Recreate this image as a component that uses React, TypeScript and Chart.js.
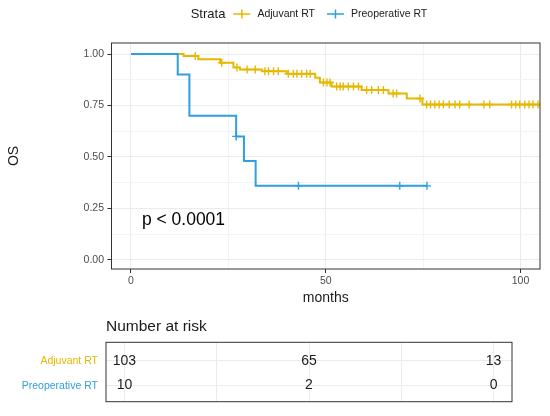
import React, { useEffect, useRef } from 'react';
import { Chart, registerables } from 'chart.js';

Chart.register(...registerables);

const FONT = '"Liberation Sans", Arial, sans-serif';
Chart.defaults.font.family = FONT;

const groupNames = ['Adjuvant RT', 'Preoperative RT'];
const groupColors = ['#E7B800', '#2E9FDF'];

// Kaplan-Meier steps: month, survival from that month on
const adjuvantTimes = [0, 13.5, 17.3, 22.9, 26.3, 28, 33.6, 40, 47.3, 48.5, 51.5, 59.2, 66.1, 70.8, 74.8, 105];
const adjuvantSurv = [1, 0.99, 0.975, 0.957, 0.935, 0.925, 0.916, 0.904, 0.885, 0.862, 0.842, 0.825, 0.808, 0.784, 0.755, 0.755];
const adjuvantCensored = [
  16.5, 23.3, 27.2, 29.8, 31.9, 34.4, 35.3, 36.6, 37.8, 40.4, 41.7, 42.6, 43.8, 45.1, 46, 49.4, 50.3, 51.1,
  52.8, 53.7, 54.5, 55.8, 57.1, 58.4, 60.5, 61.8, 63.5, 64.8, 67.3, 68.2, 74.2, 75.9, 76.9, 78, 79.1, 80.2,
  81.7, 83.2, 84.4, 86.8, 90.6, 92.1, 97.7, 98.8, 99.8, 101.1, 102.2, 103.2, 104.5,
];

const preopTimes = [0, 12, 15, 27, 29, 32, 76];
const preopSurv = [1, 0.9, 0.7, 0.6, 0.48, 0.36, 0.36];
const preopCensored = [27, 43, 69, 76];

// axis grid (major + minor) and labelled ticks
const xGrid = [0, 25, 50, 75, 100];
const xLabels = [0, 50, 100];
const yGrid = [0, 0.125, 0.25, 0.375, 0.5, 0.625, 0.75, 0.875, 1];
const yLabels = [0, 0.25, 0.5, 0.75, 1];

const pValueText = 'p < 0.0001';
const pValueAt = { x: 2.8, y: 0.193 };

// number at risk table
const riskTimes = [0, 50, 100];
const adjuvantAtRisk = [103, 65, 13];
const preopAtRisk = [10, 2, 0];

function survAt(times: number[], surv: number[], t: number) {
  let s = surv[0];
  for (let i = 0; i < times.length; i++) {
    if (times[i] <= t) s = surv[i];
  }
  return s;
}

const panelBorder = {
  id: 'panelBorder',
  afterDraw(chart: any) {
    const { ctx, chartArea: a } = chart;
    ctx.save();
    ctx.strokeStyle = '#333333';
    ctx.lineWidth = 1;
    ctx.strokeRect(a.left, a.top, a.width, a.height);
    ctx.restore();
  },
};

const strataLegend = {
  id: 'strataLegend',
  afterDraw(chart: any) {
    const ctx = chart.ctx;
    const y = 14;
    let x = 190.7;
    ctx.save();
    ctx.textBaseline = 'middle';
    ctx.textAlign = 'left';
    ctx.fillStyle = '#1A1A1A';
    ctx.font = `13px ${FONT}`;
    ctx.fillText('Strata', x, y);
    x += ctx.measureText('Strata').width + 8;
    ctx.font = `10.5px ${FONT}`;
    groupNames.forEach((name, i) => {
      ctx.strokeStyle = groupColors[i];
      ctx.lineWidth = 1.5;
      ctx.beginPath();
      ctx.moveTo(x, y);
      ctx.lineTo(x + 17, y);
      ctx.moveTo(x + 8.5, y - 4.5);
      ctx.lineTo(x + 8.5, y + 4.5);
      ctx.stroke();
      x += 24;
      ctx.fillStyle = '#1A1A1A';
      ctx.fillText(name, x, y);
      x += ctx.measureText(name).width + 12;
    });
    ctx.restore();
  },
};

const pValueLabel = {
  id: 'pValueLabel',
  afterDatasetsDraw(chart: any) {
    const { ctx, scales } = chart;
    ctx.save();
    ctx.font = `17.5px ${FONT}`;
    ctx.fillStyle = '#000000';
    ctx.textAlign = 'left';
    ctx.textBaseline = 'middle';
    ctx.fillText(pValueText, scales.x.getPixelForValue(pValueAt.x), scales.y.getPixelForValue(pValueAt.y));
    ctx.restore();
  },
};

const riskNumbers = {
  id: 'riskNumbers',
  afterDatasetsDraw(chart: any) {
    const { ctx, scales } = chart;
    const rows = [adjuvantAtRisk, preopAtRisk];
    ctx.save();
    ctx.font = `14px ${FONT}`;
    ctx.fillStyle = '#1A1A1A';
    ctx.textAlign = 'center';
    ctx.textBaseline = 'middle';
    rows.forEach((counts, r) => {
      counts.forEach((n, i) => {
        ctx.fillText(String(n), scales.x.getPixelForValue(riskTimes[i]), scales.y.getPixelForValue(r + 1));
      });
    });
    ctx.restore();
  },
};

const isMajorX = (v: number) => xLabels.includes(v);
const isMajorY = (v: number) => yLabels.some((l) => Math.abs(l - v) < 1e-9);

export default function App() {
  const mainRef = useRef<HTMLCanvasElement | null>(null);
  const tableRef = useRef<HTMLCanvasElement | null>(null);

  useEffect(() => {
    if (!mainRef.current || !tableRef.current) return;

    const steps = (times: number[], surv: number[]) => times.map((t, i) => ({ x: t, y: surv[i] }));
    const marks = (cens: number[], times: number[], surv: number[]) =>
      cens.map((t) => ({ x: t, y: survAt(times, surv, t) }));

    const main = new Chart(mainRef.current, {
      type: 'line',
      data: {
        datasets: [
          {
            type: 'scatter',
            label: 'Preoperative RT censored',
            data: marks(preopCensored, preopTimes, preopSurv),
            borderColor: groupColors[1],
            backgroundColor: groupColors[1],
            pointStyle: 'cross',
            pointRadius: 4,
            pointBorderWidth: 1.4,
            order: 1,
          },
          {
            label: groupNames[1],
            data: steps(preopTimes, preopSurv),
            stepped: 'before',
            borderColor: groupColors[1],
            borderWidth: 2,
            pointRadius: 0,
            fill: false,
            order: 2,
          },
          {
            type: 'scatter',
            label: 'Adjuvant RT censored',
            data: marks(adjuvantCensored, adjuvantTimes, adjuvantSurv),
            borderColor: groupColors[0],
            backgroundColor: groupColors[0],
            pointStyle: 'cross',
            pointRadius: 4,
            pointBorderWidth: 1.4,
            order: 3,
          },
          {
            label: groupNames[0],
            data: steps(adjuvantTimes, adjuvantSurv),
            stepped: 'before',
            borderColor: groupColors[0],
            borderWidth: 2,
            pointRadius: 0,
            fill: false,
            order: 4,
          },
        ],
      } as any,
      options: {
        animation: false,
        responsive: true,
        maintainAspectRatio: false,
        layout: { padding: { top: 43, right: 10, left: 0, bottom: 0 } },
        plugins: { legend: { display: false }, tooltip: { enabled: false } },
        scales: {
          x: {
            type: 'linear',
            min: -5,
            max: 105,
            afterBuildTicks: (axis: any) => {
              axis.ticks = xGrid.map((v) => ({ value: v }));
            },
            afterFit: (s: any) => {
              s.height = 42;
            },
            ticks: {
              callback: (v: any) => (isMajorX(v) ? String(v) : ''),
              color: '#4D4D4D',
              font: { size: 10.5 },
              padding: 2,
              maxRotation: 0,
              autoSkip: false,
            },
            grid: {
              color: (c: any) => (isMajorX(c.tick.value) ? '#EBEBEB' : '#F4F4F4'),
              tickColor: (c: any) => (isMajorX(c.tick.value) ? '#333333' : 'rgba(0,0,0,0)'),
              lineWidth: 1,
              tickLength: 4,
            },
            border: { display: false },
            title: { display: true, text: 'months', color: '#1A1A1A', font: { size: 14 }, padding: { top: 0, bottom: 4 } },
          },
          y: {
            type: 'linear',
            min: -0.0437,
            max: 1.0534,
            afterBuildTicks: (axis: any) => {
              axis.ticks = yGrid.map((v) => ({ value: v }));
            },
            afterFit: (s: any) => {
              s.width = 111.5;
            },
            ticks: {
              callback: (v: any) => (isMajorY(v) ? Number(v).toFixed(2) : ''),
              color: '#4D4D4D',
              font: { size: 10.5 },
              padding: 3.5,
              autoSkip: false,
            },
            grid: {
              color: (c: any) => (isMajorY(c.tick.value) ? '#EBEBEB' : '#F4F4F4'),
              tickColor: (c: any) => (isMajorY(c.tick.value) ? '#333333' : 'rgba(0,0,0,0)'),
              lineWidth: 1,
              tickLength: 4,
            },
            border: { display: false },
            title: { display: true, text: 'OS', color: '#1A1A1A', font: { size: 14 }, padding: { top: 5.4, bottom: 0 } },
          },
        },
      },
      plugins: [panelBorder, strataLegend, pValueLabel],
    });

    const table = new Chart(tableRef.current, {
      type: 'scatter',
      data: { datasets: [] },
      options: {
        animation: false,
        responsive: true,
        maintainAspectRatio: false,
        layout: { padding: { top: 0, right: 38, left: 0, bottom: 7 } },
        plugins: {
          legend: { display: false },
          tooltip: { enabled: false },
          title: {
            display: true,
            text: 'Number at risk',
            align: 'start',
            fullSize: false,
            color: '#1A1A1A',
            font: { size: 15.5, weight: 'normal' },
            padding: { top: 6.4, bottom: 6.3 },
          },
        },
        scales: {
          x: {
            type: 'linear',
            min: -5,
            max: 105,
            afterBuildTicks: (axis: any) => {
              axis.ticks = xGrid.map((v) => ({ value: v }));
            },
            afterFit: (s: any) => {
              s.height = 0;
            },
            ticks: { display: false },
            grid: { color: '#EBEBEB', drawTicks: false },
            border: { display: false },
          },
          y: {
            type: 'linear',
            reverse: true,
            min: 0.25,
            max: 2.65,
            afterBuildTicks: (axis: any) => {
              axis.ticks = [1, 2].map((v) => ({ value: v }));
            },
            afterFit: (s: any) => {
              s.width = 106;
            },
            ticks: {
              callback: (v: any) => groupNames[Number(v) - 1],
              color: (c: any) => groupColors[c.index],
              font: { size: 10.5 },
              padding: 8,
            },
            grid: { color: '#EBEBEB', drawTicks: false },
            border: { display: false },
          },
        },
      } as any,
      plugins: [panelBorder, riskNumbers],
    });

    return () => {
      main.destroy();
      table.destroy();
    };
  }, []);

  return (
    <div style={{ position: 'absolute', left: 0, top: 0, width: 550, height: 416, background: '#fff' }}>
      <div style={{ position: 'relative', width: 550, height: 311 }}>
        <canvas ref={mainRef} />
      </div>
      <div style={{ position: 'relative', width: 550, height: 105 }}>
        <canvas ref={tableRef} />
      </div>
    </div>
  );
}
